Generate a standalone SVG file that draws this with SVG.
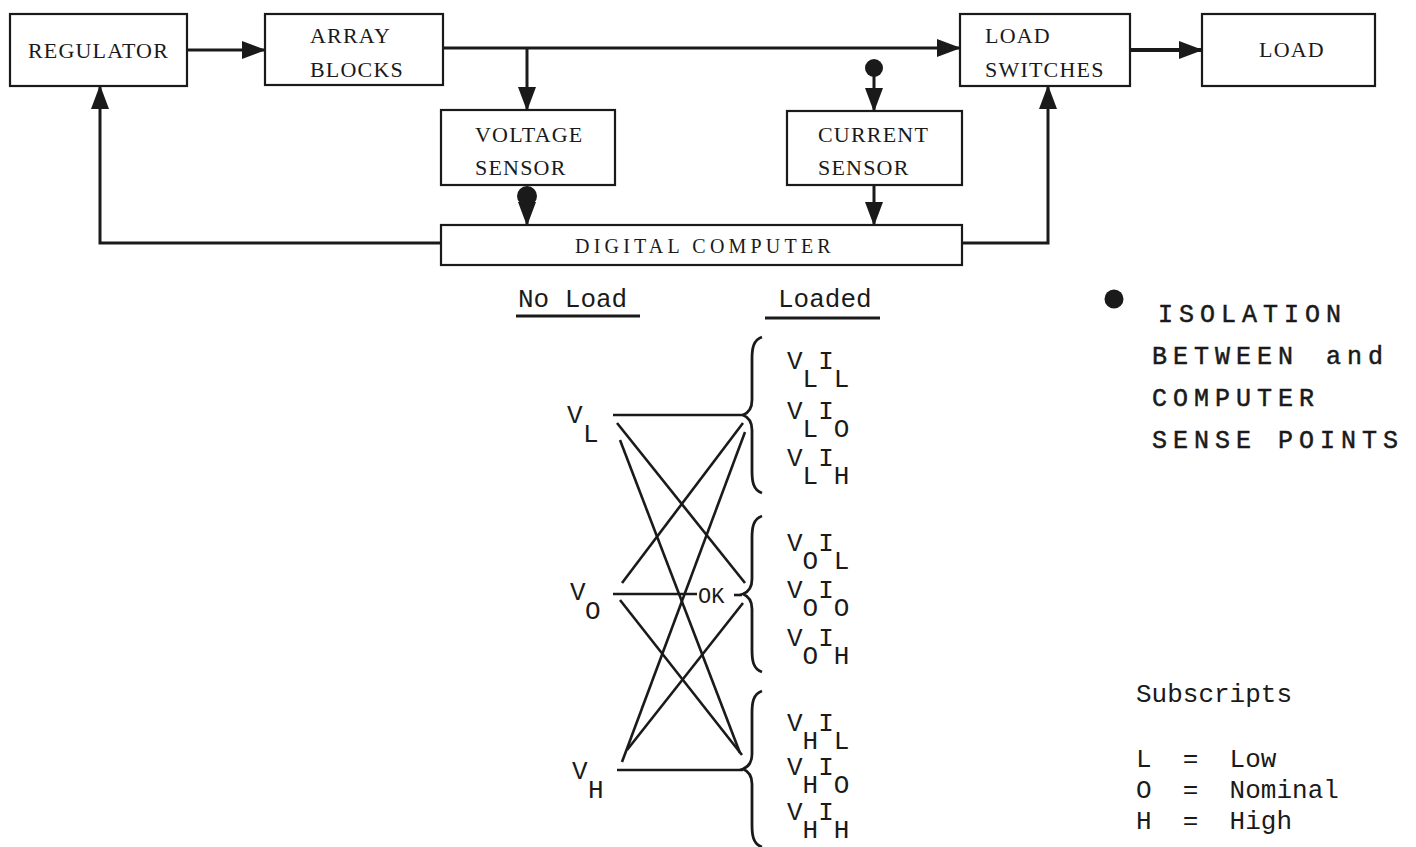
<svg xmlns="http://www.w3.org/2000/svg" xmlns:xlink="http://www.w3.org/1999/xlink" width="1416" height="847" viewBox="0 0 1416 847">
<style>
.box{fill:#fff;stroke:#1a1a1a;stroke-width:2.2}
.bl{font-family:"Liberation Serif","DejaVu Serif",serif;font-size:22px;fill:#1a1a1a;letter-spacing:1.2px}
.cn{fill:none;stroke:#1a1a1a;stroke-width:3}
.thin{fill:none;stroke:#1a1a1a;stroke-width:2.6}
.mono{font-family:"Liberation Mono","DejaVu Sans Mono",monospace;font-size:26px;fill:#1a1a1a}
.leg{font-family:"Liberation Mono","DejaVu Sans Mono",monospace;font-size:25px;fill:#1a1a1a;letter-spacing:6px;stroke:#1a1a1a;stroke-width:0.5}
.dot{fill:#1a1a1a}
</style>
<defs>
<marker id="ah" markerUnits="userSpaceOnUse" markerWidth="24" markerHeight="18" refX="23" refY="9" orient="auto">
<path d="M0,0 L24,9 L0,18 z" fill="#1a1a1a"/>
</marker>
<path id="brace" d="M19,-78 C10,-75 9,-66 9,-56 L9,-15 C9,-6 5,-2 0,0 C5,2 9,6 9,15 L9,56 C9,66 10,75 19,78" fill="none" stroke="#1a1a1a" stroke-width="2.8"/>
</defs>

<g id="regulator"><rect class="box" x="10" y="14" width="177" height="72"/><text class="bl" x="98.5" y="58" text-anchor="middle">REGULATOR</text></g>
<g id="array-blocks"><rect class="box" x="265" y="14" width="178" height="71"/><text class="bl" x="310" y="43">ARRAY</text><text class="bl" x="310" y="77">BLOCKS</text></g>
<g id="load-switches"><rect class="box" x="960" y="14" width="170" height="72"/><text class="bl" x="985" y="43">LOAD</text><text class="bl" x="985" y="77">SWITCHES</text></g>
<g id="load"><rect class="box" x="1202" y="14" width="173" height="72"/><text class="bl" x="1292" y="57" text-anchor="middle">LOAD</text></g>
<g id="voltage-sensor"><rect class="box" x="441" y="110" width="174" height="75"/><text class="bl" x="475" y="142">VOLTAGE</text><text class="bl" x="475" y="175">SENSOR</text></g>
<g id="current-sensor"><rect class="box" x="787" y="111" width="175" height="74"/><text class="bl" x="818" y="142">CURRENT</text><text class="bl" x="818" y="175">SENSOR</text></g>
<g id="digital-computer"><rect class="box" x="441" y="225" width="521" height="40"/><text class="bl" x="575" y="253" style="font-size:20px;letter-spacing:4.2px">DIGITAL COMPUTER</text></g>

<g id="connectors">
<line class="cn" x1="187" y1="50" x2="265" y2="50" marker-end="url(#ah)"/>
<line class="cn" x1="443" y1="48" x2="960" y2="48" marker-end="url(#ah)"/>
<line class="cn" x1="1130" y1="50" x2="1202" y2="50" style="stroke-width:4" marker-end="url(#ah)"/>
<line class="cn" x1="527" y1="48" x2="527" y2="110" marker-end="url(#ah)"/>
<circle class="dot" cx="874" cy="68" r="9"/>
<line class="cn" x1="874" y1="76" x2="874" y2="111" marker-end="url(#ah)"/>
<circle class="dot" cx="527" cy="196" r="10"/>
<line class="cn" x1="527" y1="200" x2="527" y2="225" marker-end="url(#ah)"/>
<line class="cn" x1="874" y1="185" x2="874" y2="225" marker-end="url(#ah)"/>
<polyline class="cn" points="441,243 100,243 100,86" marker-end="url(#ah)"/>
<polyline class="cn" points="962,243 1048,243 1048,86" marker-end="url(#ah)"/>
</g>

<g id="combinations">
<text class="mono" x="518" y="307">No Load</text>
<line x1="516" y1="316" x2="640" y2="316" stroke="#1a1a1a" stroke-width="3"/>
<text class="mono" x="778" y="307">Loaded</text>
<line x1="765" y1="318" x2="880" y2="318" stroke="#1a1a1a" stroke-width="3"/>

<text class="mono" x="567" y="423">V<tspan x="583" dy="19">L</tspan></text>
<text class="mono" x="570" y="600">V<tspan x="585" dy="19">O</tspan></text>
<text class="mono" x="572" y="779">V<tspan x="588" dy="19">H</tspan></text>

<line class="thin" x1="613" y1="415" x2="745" y2="415"/>
<line class="thin" x1="613" y1="594" x2="697" y2="594"/>
<text class="mono" x="698" y="603" style="font-size:22px">OK</text>
<line class="thin" x1="734" y1="595" x2="742" y2="595"/>
<line class="thin" x1="617" y1="770" x2="743" y2="770"/>

<line class="thin" x1="617" y1="423" x2="745" y2="583"/>
<line class="thin" x1="620" y1="440" x2="740" y2="753"/>
<line class="thin" x1="743" y1="423" x2="622" y2="583"/>
<line class="thin" x1="745" y1="432" x2="622" y2="762"/>
<line class="thin" x1="620" y1="600" x2="742" y2="755"/>
<line class="thin" x1="743" y1="603" x2="627" y2="750"/>

<use xlink:href="#brace" transform="translate(743,415)"/>
<use xlink:href="#brace" transform="translate(743,594)"/>
<use xlink:href="#brace" transform="translate(743,769)"/>

<text class="mono" x="787" y="369">V<tspan dy="18">L</tspan><tspan dy="-18">I</tspan><tspan dy="18">L</tspan></text>
<text class="mono" x="787" y="419">V<tspan dy="18">L</tspan><tspan dy="-18">I</tspan><tspan dy="18">O</tspan></text>
<text class="mono" x="787" y="466">V<tspan dy="18">L</tspan><tspan dy="-18">I</tspan><tspan dy="18">H</tspan></text>

<text class="mono" x="787" y="551">V<tspan dy="18">O</tspan><tspan dy="-18">I</tspan><tspan dy="18">L</tspan></text>
<text class="mono" x="787" y="598">V<tspan dy="18">O</tspan><tspan dy="-18">I</tspan><tspan dy="18">O</tspan></text>
<text class="mono" x="787" y="646">V<tspan dy="18">O</tspan><tspan dy="-18">I</tspan><tspan dy="18">H</tspan></text>

<text class="mono" x="787" y="731">V<tspan dy="18">H</tspan><tspan dy="-18">I</tspan><tspan dy="18">L</tspan></text>
<text class="mono" x="787" y="775">V<tspan dy="18">H</tspan><tspan dy="-18">I</tspan><tspan dy="18">O</tspan></text>
<text class="mono" x="787" y="820">V<tspan dy="18">H</tspan><tspan dy="-18">I</tspan><tspan dy="18">H</tspan></text>
</g>

<g id="isolation-legend">
<circle class="dot" cx="1114" cy="299" r="9.5"/>
<text class="leg" x="1158" y="322">ISOLATION</text>
<text class="leg" x="1152" y="364">BETWEEN <tspan dx="6">and</tspan></text>
<text class="leg" x="1152" y="406">COMPUTER</text>
<text class="leg" x="1152" y="448">SENSE POINTS</text>
</g>

<g id="subscripts-legend">
<text class="mono" x="1136" y="702">Subscripts</text>
<text class="mono" x="1136" y="767" xml:space="preserve">L  =  Low</text>
<text class="mono" x="1136" y="798" xml:space="preserve">O  =  Nominal</text>
<text class="mono" x="1136" y="829" xml:space="preserve">H  =  High</text>
</g>
</svg>
